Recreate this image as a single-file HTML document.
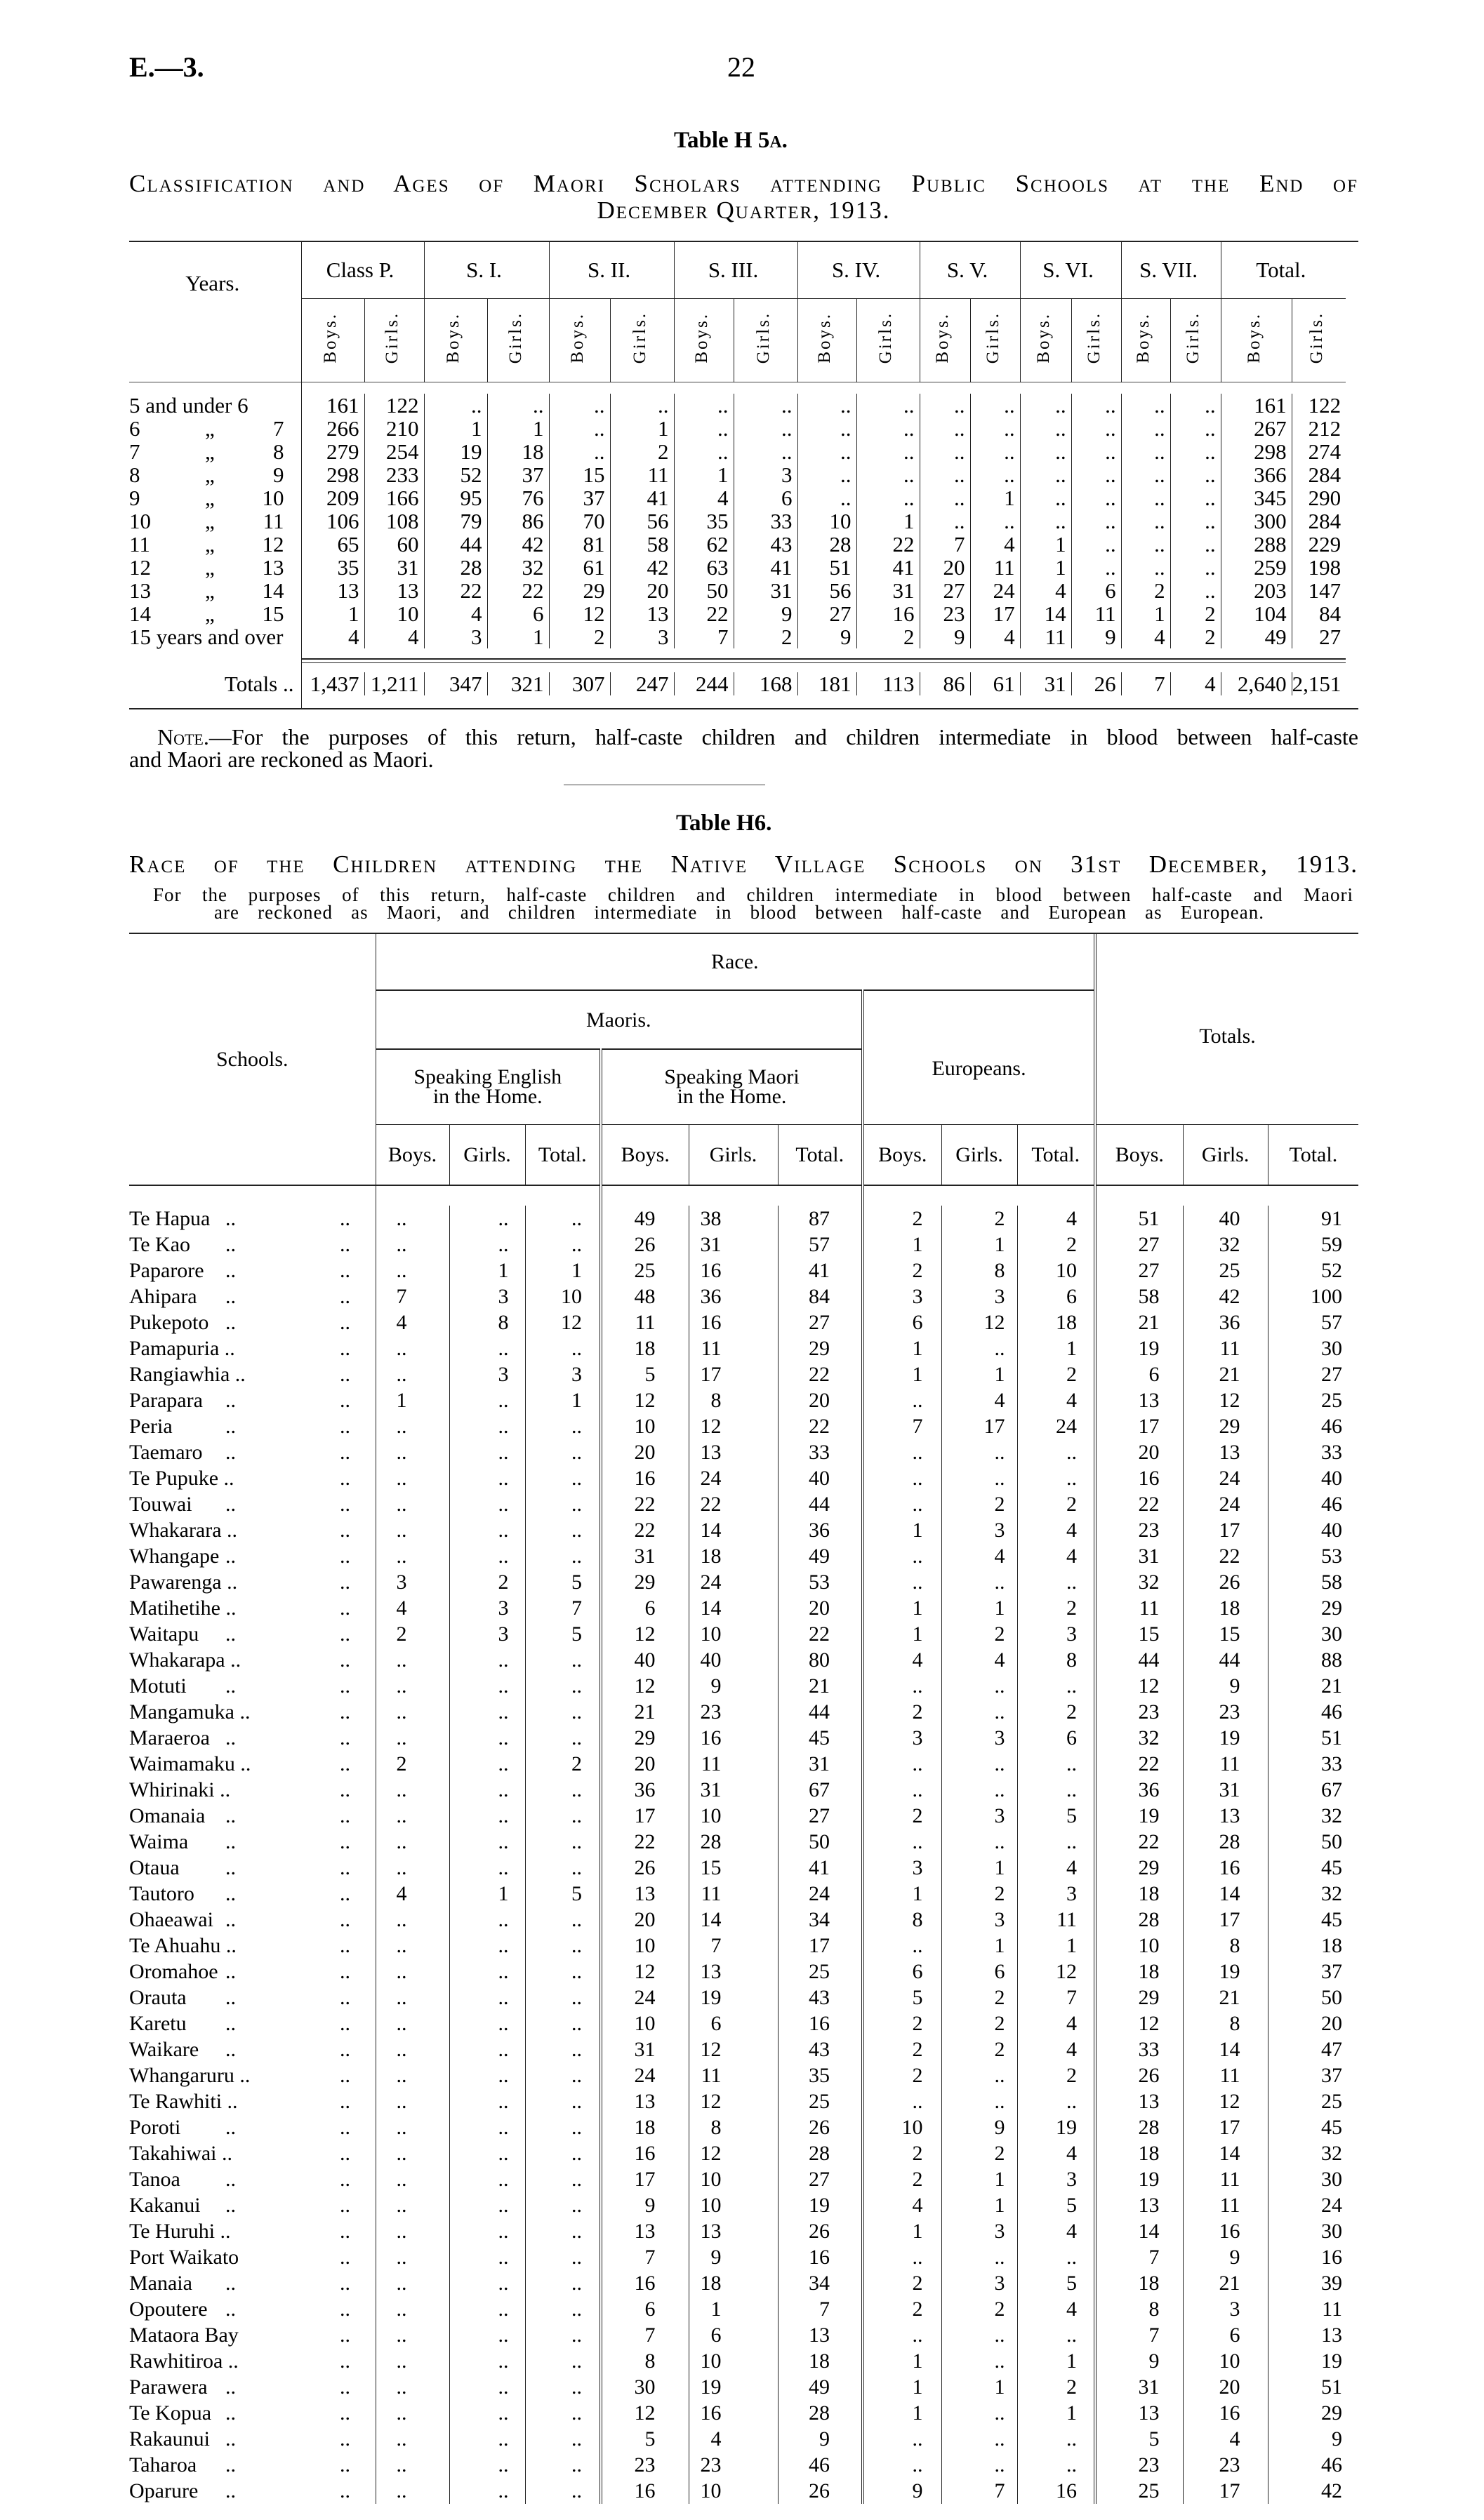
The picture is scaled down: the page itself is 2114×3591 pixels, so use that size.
<!DOCTYPE html>
<html><head><meta charset="utf-8"><style>
body{margin:0;width:2114px;height:3591px;background:#fff;position:relative;font-family:"Liberation Serif",serif;color:#000;overflow:hidden}
.a{position:absolute;white-space:nowrap}
table{border-collapse:collapse;table-layout:fixed;position:absolute}
td{padding:0;overflow:visible;white-space:nowrap}
.t1 td{font-size:31px;line-height:33px;height:33px;text-align:right;padding-right:7px;border-left:1.5px solid #222}
.t1 td.y{border-left:none;text-align:left;position:relative}
.rot{writing-mode:vertical-rl;transform:rotate(180deg);font-size:25px;letter-spacing:3px;display:inline-block}
.t2 td{font-size:30px;line-height:37px;height:37px;text-align:right;border-left:1.5px solid #222}
.t2 td.s{border-left:none;text-align:left;position:relative}
.dd{border-left:4px double #222 !important}
.h{font-size:27px;text-align:center !important}
.sc{font-variant:small-caps}
</style></head><body>
<div class="a" style="left:184px;top:72px;font-size:40px;font-weight:bold">E.—3.</div>
<div class="a" style="left:1036px;top:72px;font-size:40px">22</div>
<div class="a" style="left:960px;top:182px;font-size:33px;font-weight:bold">Table H 5<span style="font-size:24px">A</span>.</div>
<div class="a sc" style="left:184px;top:242px;width:1751px;font-size:35px;letter-spacing:2px;white-space:normal;text-align:justify;text-align-last:justify">Classification and Ages of Maori Scholars attending Public Schools at the End of</div>
<div class="a sc" style="left:184px;top:280px;width:1751px;font-size:35px;letter-spacing:2px;text-align:center">December Quarter, 1913.</div>

<div class="a" style="left:184px;top:343px;width:1751px;height:2px;background:#222"></div>
<table class="t1" style="left:184px;top:345px;width:1733px">
<colgroup><col style="width:245px"><col style="width:90px"><col style="width:85px"><col style="width:90px"><col style="width:88px"><col style="width:87px"><col style="width:91px"><col style="width:85px"><col style="width:91px"><col style="width:84px"><col style="width:90px"><col style="width:72px"><col style="width:71px"><col style="width:73px"><col style="width:71px"><col style="width:70px"><col style="width:72px"><col style="width:101px"><col style="width:77px"></colgroup>
<tr style="height:80px"><td class="y h" rowspan="2" style="vertical-align:top;padding-top:42px">Years.</td>
<td colspan="2" class="h" style="border-bottom:1.5px solid #222">Class P.</td><td colspan="2" class="h" style="border-bottom:1.5px solid #222">S. I.</td><td colspan="2" class="h" style="border-bottom:1.5px solid #222">S. II.</td><td colspan="2" class="h" style="border-bottom:1.5px solid #222">S. III.</td><td colspan="2" class="h" style="border-bottom:1.5px solid #222">S. IV.</td><td colspan="2" class="h" style="border-bottom:1.5px solid #222">S. V.</td><td colspan="2" class="h" style="border-bottom:1.5px solid #222">S. VI.</td><td colspan="2" class="h" style="border-bottom:1.5px solid #222">S. VII.</td><td colspan="2" class="h" style="border-bottom:1.5px solid #222">Total.</td></tr>
<tr style="height:119px"><td class="h"><span class="rot">Boys.</span></td><td class="h"><span class="rot">Girls.</span></td><td class="h"><span class="rot">Boys.</span></td><td class="h"><span class="rot">Girls.</span></td><td class="h"><span class="rot">Boys.</span></td><td class="h"><span class="rot">Girls.</span></td><td class="h"><span class="rot">Boys.</span></td><td class="h"><span class="rot">Girls.</span></td><td class="h"><span class="rot">Boys.</span></td><td class="h"><span class="rot">Girls.</span></td><td class="h"><span class="rot">Boys.</span></td><td class="h"><span class="rot">Girls.</span></td><td class="h"><span class="rot">Boys.</span></td><td class="h"><span class="rot">Girls.</span></td><td class="h"><span class="rot">Boys.</span></td><td class="h"><span class="rot">Girls.</span></td><td class="h"><span class="rot">Boys.</span></td><td class="h"><span class="rot">Girls.</span></td></tr>
<tr style="height:16px"><td class="y" style="height:16px;border-top:1px solid #444"></td><td style="height:16px;border-top:1px solid #444" colspan="18"></td></tr>
<tr><td class="y">5 and under 6</td><td>161</td><td>122</td><td>..</td><td>..</td><td>..</td><td>..</td><td>..</td><td>..</td><td>..</td><td>..</td><td>..</td><td>..</td><td>..</td><td>..</td><td>..</td><td>..</td><td>161</td><td>122</td></tr>
<tr><td class="y">6<span class="a" style="left:108px">„</span><span class="a" style="right:24px">7</span></td><td>266</td><td>210</td><td>1</td><td>1</td><td>..</td><td>1</td><td>..</td><td>..</td><td>..</td><td>..</td><td>..</td><td>..</td><td>..</td><td>..</td><td>..</td><td>..</td><td>267</td><td>212</td></tr>
<tr><td class="y">7<span class="a" style="left:108px">„</span><span class="a" style="right:24px">8</span></td><td>279</td><td>254</td><td>19</td><td>18</td><td>..</td><td>2</td><td>..</td><td>..</td><td>..</td><td>..</td><td>..</td><td>..</td><td>..</td><td>..</td><td>..</td><td>..</td><td>298</td><td>274</td></tr>
<tr><td class="y">8<span class="a" style="left:108px">„</span><span class="a" style="right:24px">9</span></td><td>298</td><td>233</td><td>52</td><td>37</td><td>15</td><td>11</td><td>1</td><td>3</td><td>..</td><td>..</td><td>..</td><td>..</td><td>..</td><td>..</td><td>..</td><td>..</td><td>366</td><td>284</td></tr>
<tr><td class="y">9<span class="a" style="left:108px">„</span><span class="a" style="right:24px">10</span></td><td>209</td><td>166</td><td>95</td><td>76</td><td>37</td><td>41</td><td>4</td><td>6</td><td>..</td><td>..</td><td>..</td><td>1</td><td>..</td><td>..</td><td>..</td><td>..</td><td>345</td><td>290</td></tr>
<tr><td class="y">10<span class="a" style="left:108px">„</span><span class="a" style="right:24px">11</span></td><td>106</td><td>108</td><td>79</td><td>86</td><td>70</td><td>56</td><td>35</td><td>33</td><td>10</td><td>1</td><td>..</td><td>..</td><td>..</td><td>..</td><td>..</td><td>..</td><td>300</td><td>284</td></tr>
<tr><td class="y">11<span class="a" style="left:108px">„</span><span class="a" style="right:24px">12</span></td><td>65</td><td>60</td><td>44</td><td>42</td><td>81</td><td>58</td><td>62</td><td>43</td><td>28</td><td>22</td><td>7</td><td>4</td><td>1</td><td>..</td><td>..</td><td>..</td><td>288</td><td>229</td></tr>
<tr><td class="y">12<span class="a" style="left:108px">„</span><span class="a" style="right:24px">13</span></td><td>35</td><td>31</td><td>28</td><td>32</td><td>61</td><td>42</td><td>63</td><td>41</td><td>51</td><td>41</td><td>20</td><td>11</td><td>1</td><td>..</td><td>..</td><td>..</td><td>259</td><td>198</td></tr>
<tr><td class="y">13<span class="a" style="left:108px">„</span><span class="a" style="right:24px">14</span></td><td>13</td><td>13</td><td>22</td><td>22</td><td>29</td><td>20</td><td>50</td><td>31</td><td>56</td><td>31</td><td>27</td><td>24</td><td>4</td><td>6</td><td>2</td><td>..</td><td>203</td><td>147</td></tr>
<tr><td class="y">14<span class="a" style="left:108px">„</span><span class="a" style="right:24px">15</span></td><td>1</td><td>10</td><td>4</td><td>6</td><td>12</td><td>13</td><td>22</td><td>9</td><td>27</td><td>16</td><td>23</td><td>17</td><td>14</td><td>11</td><td>1</td><td>2</td><td>104</td><td>84</td></tr>
<tr><td class="y">15 years and over</td><td>4</td><td>4</td><td>3</td><td>1</td><td>2</td><td>3</td><td>7</td><td>2</td><td>9</td><td>2</td><td>9</td><td>4</td><td>11</td><td>9</td><td>4</td><td>2</td><td>49</td><td>27</td></tr>
<tr style="height:34px"><td class="y" style="height:34px"></td><td colspan="18" style="height:34px;border-left:1.5px solid #222"></td></tr>
<tr><td class="y" style="text-align:right;padding-right:10px">Totals ..</td><td>1,437</td><td>1,211</td><td>347</td><td>321</td><td>307</td><td>247</td><td>244</td><td>168</td><td>181</td><td>113</td><td>86</td><td>61</td><td>31</td><td>26</td><td>7</td><td>4</td><td>2,640</td><td>2,151</td></tr>
<tr style="height:20px"><td class="y" style="height:20px"></td><td colspan="18" style="height:20px"></td></tr>
</table>
<div class="a" style="left:429px;top:938px;width:1488px;height:2px;background:#222"></div>
<div class="a" style="left:429px;top:944px;width:1488px;height:1px;background:#222"></div>
<div class="a" style="left:184px;top:1009px;width:1751px;height:2px;background:#222"></div>

<div class="a" style="left:184px;top:1032px;width:1751px;font-size:32px;white-space:normal;text-align:justify;text-align-last:justify;padding-left:40px;box-sizing:border-box"><span class="sc">Note.</span>—For the purposes of this return, half-caste children and children intermediate in blood between half-caste</div>
<div class="a" style="left:184px;top:1064px;font-size:32px">and Maori are reckoned as Maori.</div>
<div class="a" style="left:803px;top:1118px;width:287px;height:1px;background:#444"></div>

<div class="a" style="left:963px;top:1155px;font-size:33px;font-weight:bold">Table H6.</div>
<div class="a sc" style="left:184px;top:1212px;width:1751px;font-size:35px;letter-spacing:2px;white-space:normal;text-align:justify;text-align-last:justify">Race of the Children attending the Native Village Schools on 31st December, 1913.</div>
<div class="a" style="left:218px;top:1260px;width:1710px;font-size:27px;letter-spacing:1px;white-space:normal;text-align:justify;text-align-last:justify">For the purposes of this return, half-caste children and children intermediate in blood between half-caste and Maori</div>
<div class="a" style="left:305px;top:1285px;width:1496px;font-size:27px;letter-spacing:1px;white-space:normal;text-align:justify;text-align-last:justify">are reckoned as Maori, and children intermediate in blood between half-caste and European as European.</div>

<div class="a" style="left:184px;top:1329px;width:1751px;height:2px;background:#222"></div>
<table class="t2" style="left:184px;top:1331px;width:1751px">
<colgroup><col style="width:351px"><col style="width:105px"><col style="width:108px"><col style="width:108px"><col style="width:125px"><col style="width:127px"><col style="width:121px"><col style="width:112px"><col style="width:108px"><col style="width:111px"><col style="width:125px"><col style="width:121px"><col style="width:129px"></colgroup>
<tr style="height:79px"><td class="s h" rowspan="4" style="height:auto">Schools.</td><td colspan="9" class="h" style="height:79px;border-bottom:2px solid #222">Race.</td><td colspan="3" rowspan="3" class="h dd" style="height:auto;border-bottom:1.5px solid #222;padding-top:20px">Totals.</td></tr>
<tr style="height:82px"><td colspan="6" class="h" style="height:82px;border-bottom:2px solid #222">Maoris.</td><td colspan="3" rowspan="2" class="h dd" style="height:auto;border-bottom:1.5px solid #222;padding-top:30px">Europeans.</td></tr>
<tr style="height:106px"><td colspan="3" class="h" style="height:106px;line-height:28px;border-bottom:1.5px solid #222">Speaking English<br>in the Home.</td><td colspan="3" class="h dd" style="height:106px;line-height:28px;border-bottom:1.5px solid #222">Speaking Maori<br>in the Home.</td></tr>
<tr style="height:85px"><td class="h" style="height:85px">Boys.</td><td class="h">Girls.</td><td class="h">Total.</td><td class="h dd">Boys.</td><td class="h">Girls.</td><td class="h">Total.</td><td class="h dd">Boys.</td><td class="h">Girls.</td><td class="h">Total.</td><td class="h dd">Boys.</td><td class="h">Girls.</td><td class="h">Total.</td></tr>
<tr style="height:35px"><td class="s" style="height:35px;border-top:2px solid #222"></td><td colspan="3" style="height:35px;border-top:2px solid #222"></td><td colspan="3" class="dd" style="height:35px;border-top:2px solid #222"></td><td colspan="3" class="dd" style="height:35px;border-top:2px solid #222"></td><td colspan="3" class="dd" style="height:35px;border-top:2px solid #222"></td></tr>
</table>
<table class="t2" style="left:184px;top:1718px;width:1751px">
<colgroup><col style="width:351px"><col style="width:105px"><col style="width:108px"><col style="width:108px"><col style="width:125px"><col style="width:127px"><col style="width:121px"><col style="width:112px"><col style="width:108px"><col style="width:111px"><col style="width:125px"><col style="width:121px"><col style="width:129px"></colgroup>
<tbody id="b"></tbody>
</table>
<script>
var rows=[
["Te Hapua","..","..","..",49,38,87,2,2,4,51,40,91],
["Te Kao","..","..","..",26,31,57,1,1,2,27,32,59],
["Paparore","..",1,1,25,16,41,2,8,10,27,25,52],
["Ahipara",7,3,10,48,36,84,3,3,6,58,42,100],
["Pukepoto",4,8,12,11,16,27,6,12,18,21,36,57],
["Pamapuria","..","..","..",18,11,29,1,"..",1,19,11,30],
["Rangiawhia","..",3,3,5,17,22,1,1,2,6,21,27],
["Parapara",1,"..",1,12,8,20,"..",4,4,13,12,25],
["Peria","..","..","..",10,12,22,7,17,24,17,29,46],
["Taemaro","..","..","..",20,13,33,"..","..","..",20,13,33],
["Te Pupuke","..","..","..",16,24,40,"..","..","..",16,24,40],
["Touwai","..","..","..",22,22,44,"..",2,2,22,24,46],
["Whakarara","..","..","..",22,14,36,1,3,4,23,17,40],
["Whangape","..","..","..",31,18,49,"..",4,4,31,22,53],
["Pawarenga",3,2,5,29,24,53,"..","..","..",32,26,58],
["Matihetihe",4,3,7,6,14,20,1,1,2,11,18,29],
["Waitapu",2,3,5,12,10,22,1,2,3,15,15,30],
["Whakarapa","..","..","..",40,40,80,4,4,8,44,44,88],
["Motuti","..","..","..",12,9,21,"..","..","..",12,9,21],
["Mangamuka","..","..","..",21,23,44,2,"..",2,23,23,46],
["Maraeroa","..","..","..",29,16,45,3,3,6,32,19,51],
["Waimamaku",2,"..",2,20,11,31,"..","..","..",22,11,33],
["Whirinaki","..","..","..",36,31,67,"..","..","..",36,31,67],
["Omanaia","..","..","..",17,10,27,2,3,5,19,13,32],
["Waima","..","..","..",22,28,50,"..","..","..",22,28,50],
["Otaua","..","..","..",26,15,41,3,1,4,29,16,45],
["Tautoro",4,1,5,13,11,24,1,2,3,18,14,32],
["Ohaeawai","..","..","..",20,14,34,8,3,11,28,17,45],
["Te Ahuahu","..","..","..",10,7,17,"..",1,1,10,8,18],
["Oromahoe","..","..","..",12,13,25,6,6,12,18,19,37],
["Orauta","..","..","..",24,19,43,5,2,7,29,21,50],
["Karetu","..","..","..",10,6,16,2,2,4,12,8,20],
["Waikare","..","..","..",31,12,43,2,2,4,33,14,47],
["Whangaruru","..","..","..",24,11,35,2,"..",2,26,11,37],
["Te Rawhiti","..","..","..",13,12,25,"..","..","..",13,12,25],
["Poroti","..","..","..",18,8,26,10,9,19,28,17,45],
["Takahiwai","..","..","..",16,12,28,2,2,4,18,14,32],
["Tanoa","..","..","..",17,10,27,2,1,3,19,11,30],
["Kakanui","..","..","..",9,10,19,4,1,5,13,11,24],
["Te Huruhi","..","..","..",13,13,26,1,3,4,14,16,30],
["Port Waikato","..","..","..",7,9,16,"..","..","..",7,9,16],
["Manaia","..","..","..",16,18,34,2,3,5,18,21,39],
["Opoutere","..","..","..",6,1,7,2,2,4,8,3,11],
["Mataora Bay","..","..","..",7,6,13,"..","..","..",7,6,13],
["Rawhitiroa","..","..","..",8,10,18,1,"..",1,9,10,19],
["Parawera","..","..","..",30,19,49,1,1,2,31,20,51],
["Te Kopua","..","..","..",12,16,28,1,"..",1,13,16,29],
["Rakaunui","..","..","..",5,4,9,"..","..","..",5,4,9],
["Taharoa","..","..","..",23,23,46,"..","..","..",23,23,46],
["Oparure","..","..","..",16,10,26,9,7,16,25,17,42]];
var pads=[60,23,25,47,80,45,26,17,24,33,39,23];
var h="";
rows.forEach(function(r){
 var nm=r[0];
 var first=nm.length<=8?'<span class="a" style="left:137px">..</span>':(nm.length<=10?' ..':'');
 h+='<tr><td class="s">'+nm+first+'<span class="a" style="left:300px">..</span></td>';
 for(var i=1;i<13;i++){
  var c=(i==4||i==7||i==10)?' class="dd"':'';
  h+='<td'+c+' style="padding-right:'+pads[i-1]+'px">'+r[i]+'</td>';
 }
 h+='</tr>';
});
document.getElementById("b").innerHTML=h;
</script>
</body></html>
